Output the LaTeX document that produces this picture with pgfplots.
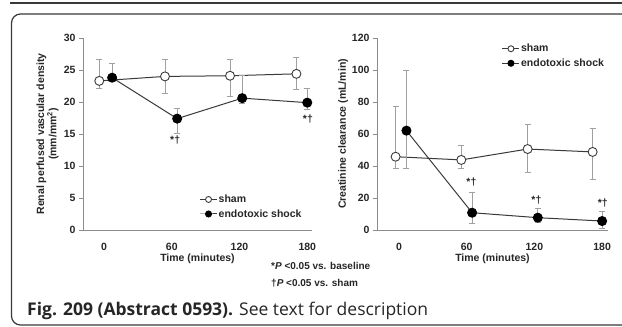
\documentclass[border=0pt]{standalone}
\usepackage{pgfplots}
\pgfplotsset{compat=1.18}
\usepackage{fontspec}
\setmainfont{Liberation Sans}
\newfontfamily\capfont{Open Sans}

\definecolor{txt}{HTML}{262626}
\definecolor{ln}{HTML}{3A3A3A}
\definecolor{eb}{HTML}{A0A0A0}
\definecolor{ax}{HTML}{8C8C8C}

\newcommand\lbl{\fontsize{10.5}{11}\selectfont\bfseries}

\pgfplotsset{
  panel/.style={
    scale only axis, height=192pt, clip=false,
    axis x line=bottom, axis y line=left,
    axis line style={-, ax, line width=0.9pt},
    ymin=0,
    xtick={0,1,2,3}, xticklabels={0,60,120,180},
    x tick style={draw=none},
    y tick style={ax, line width=0.8pt},
    major tick length=4pt, tick align=outside,
    ticklabel style={font=\lbl, text=txt},
    xticklabel style={yshift=-6pt},
    /pgf/number format/assume math mode=true,
    xlabel={Time (minutes)},
    label style={font=\lbl, text=txt},
    xlabel style={at={(axis description cs:0.5,0)}, anchor=center, yshift=-29pt},
    legend style={draw=none, fill=none, font=\lbl, text=txt, inner sep=0pt,
      row sep=3pt, nodes={inner sep=1.2pt}},
    legend cell align=left,
    legend image code/.code={
      \draw[mark repeat=2, mark phase=2, #1, mark size=3pt]
        plot coordinates {(0pt,0pt) (8.5pt,0pt) (17pt,0pt)};
    },
  },
  sham/.style={ln, line width=1pt, mark=*, mark size=4.5pt,
    mark options={fill=white, draw=ln, line width=0.9pt}},
  endo/.style={ln, line width=1pt, mark=*, mark size=4.5pt,
    mark options={fill=black, draw=black}},
  ebars/.style={error bars/.cd, y dir=both, y explicit,
    error bar style={eb, line width=0.9pt},
    error mark options={eb, rotate=90, mark size=3pt, line width=0.9pt}},
}

% renal perfused vascular density (mm/mm^2)
\pgfplotstableread{
x     y     ep    em
-0.07 23.3  3.4   1.2
0.90  24.0  2.7   2.7
1.86  24.1  2.6   3.3
2.84  24.4  2.5   2.4
}\rpvdsham
\pgfplotstableread{
x     y     ep    em
0.12  23.8  2.2   0.0
1.08  17.4  1.6   2.3
2.04  20.6  3.6   0.8
3.00  19.9  2.2   1.1
}\rpvdendo

% creatinine clearance (mL/min)
\pgfplotstableread{
x     y     ep    em
-0.05 45.8  31.7  7.3
0.92  43.8  9.3   5.3
1.90  50.6  15.4  14.8
2.86  48.8  14.7  16.9
}\ccsham
\pgfplotstableread{
x     y     ep    em
0.11  62.1  37.5  23.6
1.08  10.8  12.5  6.6
2.05  7.7   6.0   3.0
3.00  5.6   6.3   4.8
}\ccendo

\begin{document}
\begin{tikzpicture}
\useasboundingbox (0pt,0pt) rectangle (622pt,327pt);
\fill[white] (0pt,0pt) rectangle (622pt,327pt);

% frame
\draw[ln, line width=1.2pt] (10pt,324pt) -- (640pt,324pt);
\draw[ln, line width=1.2pt, rounded corners=9pt] (11.5pt,2pt) rectangle (660pt,313pt);

\begin{axis}[panel, at={(83pt,97pt)}, anchor=south west, width=229pt,
    xmin=-0.31, xmax=3.07, ymax=30, ytick={0,5,...,30},
    ylabel={Renal perfused vascular density\\(mm/mm\textsuperscript{2})},
    ylabel style={at={(axis description cs:-0.155,0.5)}, anchor=center, align=center},
    legend style={at={(rel axis cs:0.508,0.19)}, anchor=north west}]
  \addplot[sham, ebars] table[x=x, y=y, y error plus=ep, y error minus=em] {\rpvdsham};
  \addlegendentry{sham}
  \addplot[endo, ebars] table[x=x, y=y, y error plus=ep, y error minus=em] {\rpvdendo};
  \addlegendentry{endotoxic shock}
  \node[font=\lbl, text=txt] at (axis cs:1.05,14.1) {*†};
  \node[font=\lbl, text=txt] at (axis cs:3.01,17.3) {*†};
\end{axis}

\begin{axis}[panel, at={(377pt,97pt)}, anchor=south west, width=231pt,
    xmin=-0.325, xmax=3.087, ymax=120, ytick={0,20,...,120},
    ylabel={Creatinine clearance (mL/min)},
    ylabel style={at={(axis description cs:-0.147,0.5)}, anchor=center},
    legend style={at={(rel axis cs:0.54,0.975)}, anchor=north west}]
  \addplot[sham, ebars] table[x=x, y=y, y error plus=ep, y error minus=em] {\ccsham};
  \addlegendentry{sham}
  \addplot[endo, ebars] table[x=x, y=y, y error plus=ep, y error minus=em] {\ccendo};
  \addlegendentry{endotoxic shock}
  \node[font=\lbl, text=txt] at (axis cs:1.07,30.2) {*†};
  \node[font=\lbl, text=txt] at (axis cs:2.03,18.8) {*†};
  \node[font=\lbl, text=txt] at (axis cs:3.01,16.9) {*†};
\end{axis}

% footnotes
\node[anchor=base west, font=\fontsize{10}{11}\selectfont\bfseries, text=txt, inner sep=0pt]
  at (271pt,57pt) {*\textit{P} <0.05 vs. baseline};
\node[anchor=base west, font=\fontsize{10}{11}\selectfont\bfseries, text=txt, inner sep=0pt]
  at (271pt,40pt) {†\textit{P} <0.05 vs. sham};

% caption
\node[anchor=base west, inner sep=0pt, text=txt, font=\capfont\fontsize{17.5}{20}\selectfont]
  at (27pt,11pt) {\textbf{Fig. 209 (Abstract 0593).} See text for description};
\end{tikzpicture}
\end{document}
